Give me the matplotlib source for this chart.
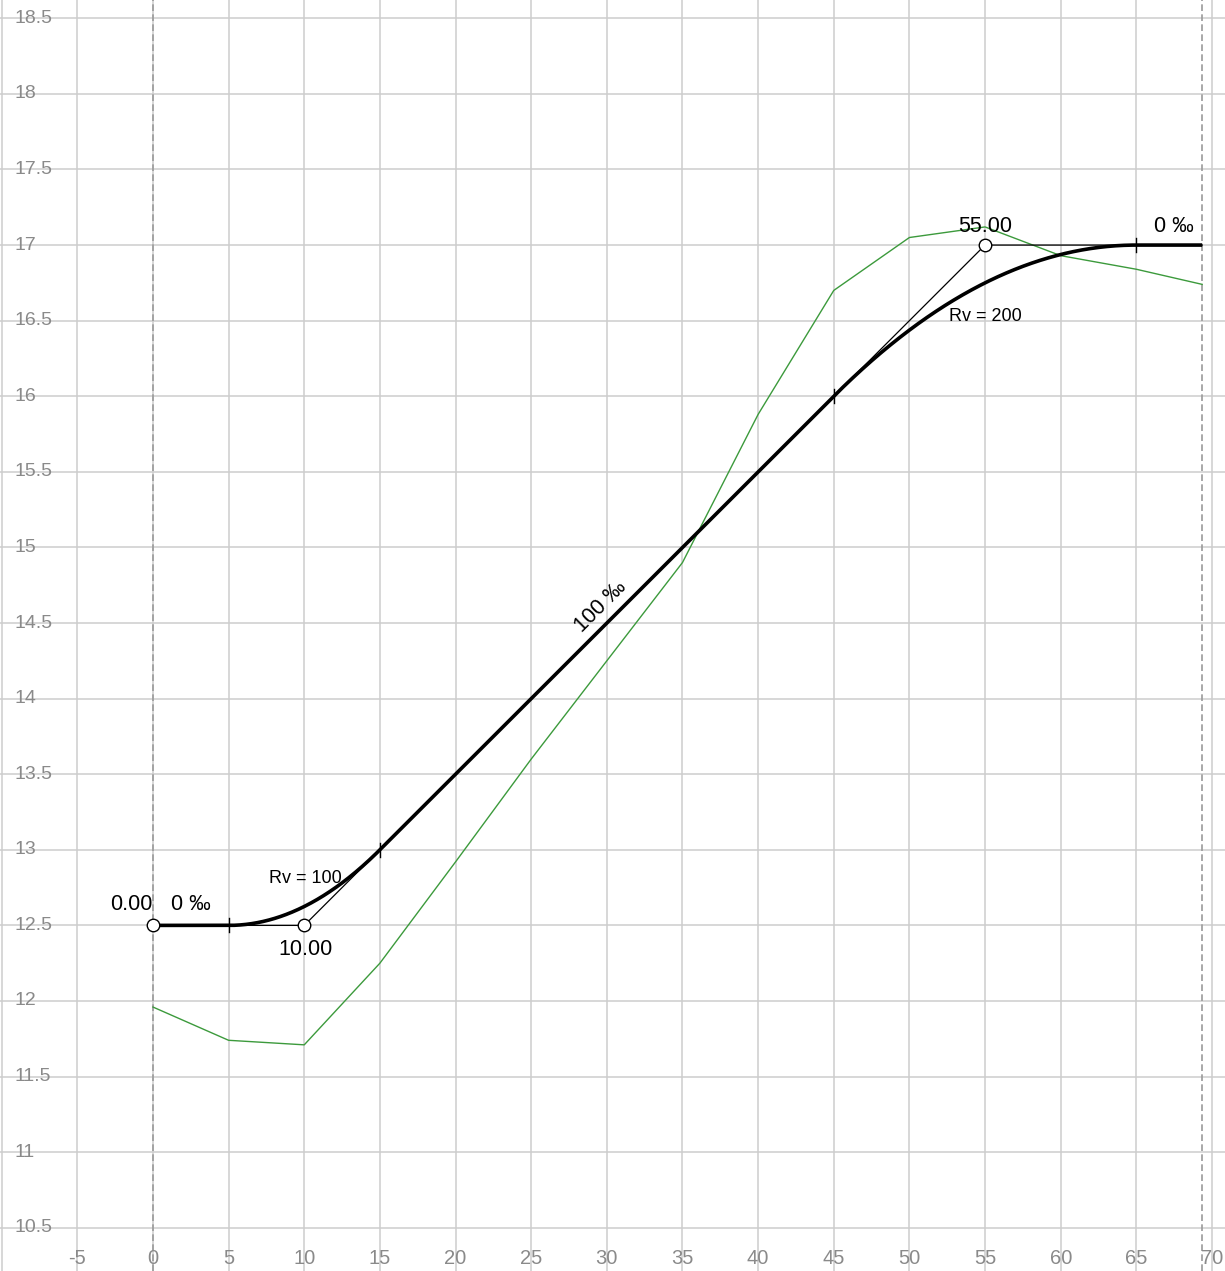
import numpy as np
import matplotlib
matplotlib.use("Agg")
import matplotlib.pyplot as plt

plt.rcParams['font.family'] = ['Liberation Sans', 'DejaVu Sans']

# --- Design profile (vertical alignment) ---
pvi_station = [0.0, 10.0, 55.0, 69.35]
pvi_elev = [12.5, 12.5, 17.0, 17.0]
pvi_radius = [None, 100.0, 200.0, None]
grade_labels = ["0 ‰", "100 ‰", "0 ‰"]
station_labels = ["0.00", "10.00", "55.00"]

# --- Terrain (green) ---
terrain_x = [0, 5, 10, 15, 20, 25, 30, 35, 40, 45, 50, 55, 60, 65, 69.35]
terrain_y = [11.96, 11.74, 11.71, 12.25, 12.92, 13.6, 14.25, 14.9, 15.88,
             16.70, 17.05, 17.12, 16.93, 16.84, 16.74]

x_ticks = list(range(-10, 71, 5))
y_ticks = [10.5 + 0.5 * i for i in range(17)]

fig = plt.figure(figsize=(12.25, 12.71), dpi=100)
ax = fig.add_axes([0, 0, 1, 1])
xmin, xmax = -10.11, 70.86
ymin, ymax = 10.214, 18.621
ax.set_xlim(xmin, xmax)
ax.set_ylim(ymin, ymax)
ax.axis('off')

grid_c = '#cdcdcd'
for xv in x_ticks:
    ax.axvline(xv, color=grid_c, lw=1.1, zorder=0)
for yv in y_ticks:
    ax.axhline(yv, color=grid_c, lw=1.1, zorder=0)

# dashed boundaries
for xv in (pvi_station[0], pvi_station[-1]):
    ax.axvline(xv, color='#9a9a9a', lw=1.2, ls=(0, (4, 2)), zorder=1)

# tick labels inside
lab_c = '#8a8a8a'
for yv in y_ticks:
    ax.text(-9.12, yv, f"{yv:g}", ha='left', va='center', fontsize=14,
            color=lab_c, zorder=2)
for xv in x_ticks:
    if xv == -10:
        continue
    ax.text(xv, 10.294, f"{xv:g}", ha='center', va='center', fontsize=14.5,
            color=lab_c, zorder=2)

# terrain
ax.plot(terrain_x, terrain_y, color='#3c9a3c', lw=1.0, zorder=3)

# tangent polygon
ax.plot(pvi_station, pvi_elev, color='black', lw=0.9, zorder=4)

# grades
grades = [(pvi_elev[i + 1] - pvi_elev[i]) / (pvi_station[i + 1] - pvi_station[i])
          for i in range(len(pvi_station) - 1)]

# build profile with parabolic vertical curves
curves = []
for i in range(1, len(pvi_station) - 1):
    R = pvi_radius[i]
    dg = grades[i] - grades[i - 1]
    L = R * abs(dg)
    curves.append((pvi_station[i] - L / 2, pvi_station[i] + L / 2, i, R, dg))

xs = np.linspace(pvi_station[0], pvi_station[-1], 2000)
ys = np.interp(xs, pvi_station, pvi_elev)
for (bvc, evc, i, R, dg) in curves:
    m = (xs >= bvc) & (xs <= evc)
    g1 = grades[i - 1]
    ybvc = pvi_elev[i] - g1 * (pvi_station[i] - bvc)
    sign = 1 if dg > 0 else -1
    ys[m] = ybvc + g1 * (xs[m] - bvc) + sign * (xs[m] - bvc) ** 2 / (2 * R)
ax.plot(xs, ys, color='black', lw=2.6, zorder=5, solid_capstyle='butt')

# tick marks at curve ends
for (bvc, evc, i, R, dg) in curves:
    for xe in (bvc, evc):
        ye = np.interp(xe, xs, ys)
        ax.plot([xe, xe], [ye - 0.047, ye + 0.047], color='black', lw=1.0, zorder=6)

# PVI circles
ax.plot(pvi_station[:-1], pvi_elev[:-1], 'o', ms=9, mfc='white', mec='black',
        mew=1.0, zorder=7)

fs = 15.5
ax.text(-0.05, 12.57, station_labels[0], ha='right', va='bottom', fontsize=fs, zorder=8)
ax.text(1.2, 12.57, grade_labels[0], ha='left', va='bottom', fontsize=fs, zorder=8)
ax.text(10.1, 12.34, station_labels[1], ha='center', va='center', fontsize=fs, zorder=8)
ax.text(10.08, 12.81, f"Rv = {pvi_radius[1]:g}", ha='center', va='center',
        fontsize=13, zorder=8)
ax.text(29.6, 14.61, grade_labels[1], ha='center', va='center', fontsize=fs,
        rotation=45, zorder=8)
ax.text(55.0, 17.12, station_labels[2], ha='center', va='center', fontsize=fs, zorder=8)
ax.text(67.5, 17.12, grade_labels[2], ha='center', va='center', fontsize=fs, zorder=8)
ax.text(55.0, 16.53, f"Rv = {pvi_radius[2]:g}", ha='center', va='center',
        fontsize=13, zorder=8)

fig.savefig("out.png", dpi=100)
